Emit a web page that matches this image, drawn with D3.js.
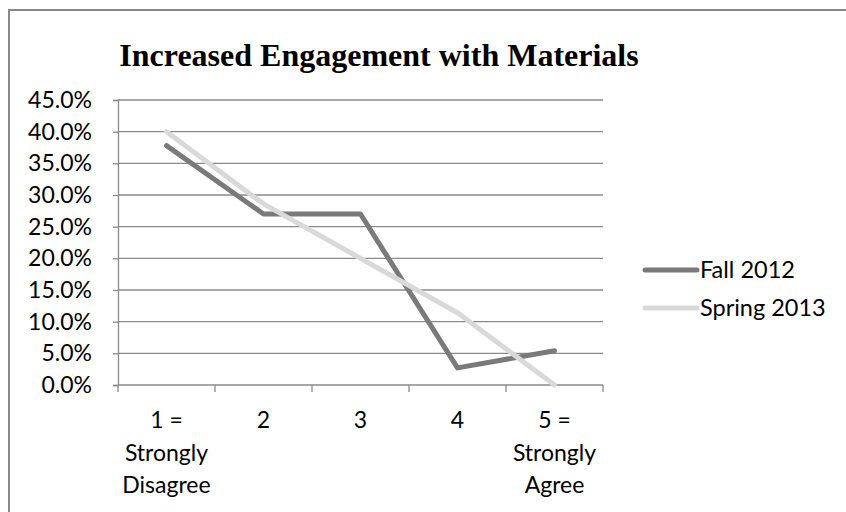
<!DOCTYPE html>
<html>
<head>
<meta charset="utf-8">
<script src="https://cdn.jsdelivr.net/npm/d3@7/dist/d3.min.js"></script>
<style>
  html, body { margin: 0; padding: 0; background: #fff; overflow: hidden; width: 846px; height: 512px; }
  svg { display: block; }
</style>
</head>
<body>
<svg id="chart" width="846" height="512" viewBox="0 0 846 512"></svg>
<script>
// Survey responses: share of students reporting increased engagement
const categories = [
  ["1 =", "Strongly", "Disagree"],
  ["2"],
  ["3"],
  ["4"],
  ["5 =", "Strongly", "Agree"]
];
const fall2012 = [0.378, 0.270, 0.270, 0.027, 0.054];
const spring2013 = [0.400, 0.286, 0.200, 0.114, 0.000];
const seriesNames = ["Fall 2012", "Spring 2013"];
const seriesColors = ["#7a7a7a", "#d9d9d9"];
const yTicks = [0, 0.05, 0.10, 0.15, 0.20, 0.25, 0.30, 0.35, 0.40, 0.45];
const title = "Increased Engagement with Materials";

const svg = d3.select("#chart");
const plot = { left: 118, right: 603, top: 100, bottom: 385 };
const labelFont = "Lato, 'Open Sans', sans-serif";
const labelSize = 23;

// White page background
svg.append("rect")
  .attr("width", 846).attr("height", 512)
  .attr("fill", "#fff");

// Outer chart frame: only its top and left edges fall inside the view
svg.append("line")
  .attr("x1", 9).attr("x2", 846)
  .attr("y1", 10).attr("y2", 10)
  .attr("stroke", "#888").attr("stroke-width", 2);
svg.append("line")
  .attr("x1", 9).attr("x2", 9)
  .attr("y1", 9).attr("y2", 512)
  .attr("stroke", "#888").attr("stroke-width", 2);

// Title
svg.append("text")
  .attr("x", 379).attr("y", 66)
  .attr("text-anchor", "middle")
  .attr("font-family", "'Liberation Serif', 'Times New Roman', serif")
  .attr("font-weight", "bold")
  .attr("font-size", 32)
  .attr("fill", "#000")
  .text(title);

const x = d3.scaleBand()
  .domain(d3.range(categories.length))
  .range([plot.left, plot.right])
  .paddingInner(0).paddingOuter(0);

const y = d3.scaleLinear()
  .domain([0, 0.45])
  .range([plot.bottom, plot.top]);

// Horizontal gridlines
svg.append("g")
  .selectAll("line")
  .data(yTicks.filter(d => d > 0))
  .join("line")
  .attr("x1", plot.left).attr("x2", plot.right)
  .attr("y1", d => y(d)).attr("y2", d => y(d))
  .attr("stroke", "#8a8a8a")
  .attr("stroke-width", 1.3);

// Y axis
const yAxis = svg.append("g")
  .attr("transform", `translate(${plot.left},0)`)
  .call(d3.axisLeft(y).tickValues(yTicks).tickSize(5).tickPadding(21)
    .tickFormat(d3.format(".1%")));
yAxis.select(".domain").attr("stroke", "#8a8a8a").attr("stroke-width", 1.3);
yAxis.selectAll(".tick line").attr("stroke", "#8a8a8a").attr("stroke-width", 1.3);
yAxis.selectAll(".tick text")
  .attr("font-family", labelFont)
  .attr("font-size", labelSize)
  .attr("fill", "#000");

// X axis: ticks at category boundaries, labels at category centers
const xAxisG = svg.append("g").attr("transform", `translate(0,${plot.bottom})`);
xAxisG.append("line")
  .attr("x1", plot.left).attr("x2", plot.right)
  .attr("stroke", "#8a8a8a").attr("stroke-width", 1.3);
const boundaries = d3.range(categories.length + 1)
  .map(i => i < categories.length ? x(i) : x(categories.length - 1) + x.bandwidth());
xAxisG.selectAll(".xtick")
  .data(boundaries)
  .join("line")
  .attr("class", "xtick")
  .attr("x1", d => d).attr("x2", d => d)
  .attr("y1", 0).attr("y2", 7)
  .attr("stroke", "#8a8a8a").attr("stroke-width", 1.3);
const xl = xAxisG.selectAll(".xlabel")
  .data(categories)
  .join("text")
  .attr("class", "xlabel")
  .attr("text-anchor", "middle")
  .attr("font-family", labelFont)
  .attr("font-size", labelSize)
  .attr("fill", "#000");
xl.each(function(lines, i) {
  d3.select(this).selectAll("tspan")
    .data(lines)
    .join("tspan")
    .attr("x", x(i) + x.bandwidth() / 2)
    .attr("y", (d, j) => 43 + j * 32.5)
    .text(d => d);
});

// Series lines
const line = d3.line()
  .x((d, i) => x(i) + x.bandwidth() / 2)
  .y(d => y(d));
[fall2012, spring2013].forEach((s, k) => {
  svg.append("path")
    .datum(s)
    .attr("d", line)
    .attr("fill", "none")
    .attr("stroke", seriesColors[k])
    .attr("stroke-width", 5)
    .attr("stroke-linejoin", "round")
    .attr("stroke-linecap", "round");
});

// Legend
const legend = svg.append("g");
seriesNames.forEach((name, k) => {
  const ly = 270 + k * 38;
  legend.append("line")
    .attr("x1", 645).attr("x2", 697)
    .attr("y1", ly).attr("y2", ly)
    .attr("stroke", seriesColors[k])
    .attr("stroke-width", 5)
    .attr("stroke-linecap", "round");
  legend.append("text")
    .attr("x", 700).attr("y", ly + 8)
    .attr("font-family", labelFont)
    .attr("font-size", 23.5)
    .attr("fill", "#000")
    .text(name);
});
</script>
</body>
</html>
